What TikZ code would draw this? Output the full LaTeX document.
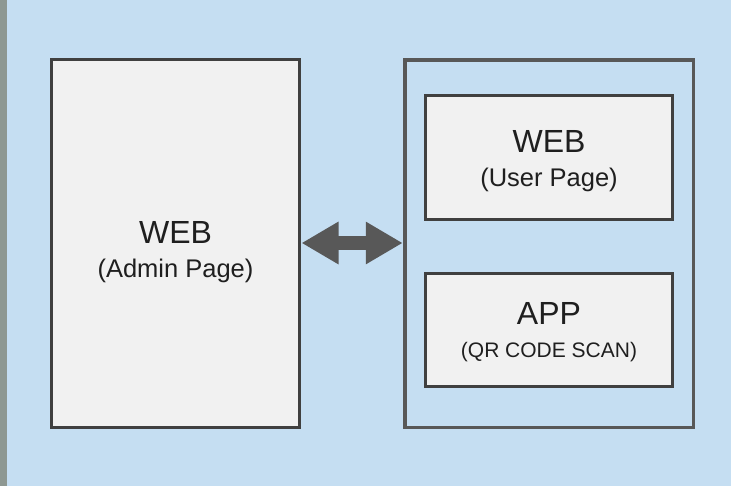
\documentclass[tikz,border=0pt]{standalone}
\usepackage{fontspec}
\setmainfont{Liberation Sans}
\usepackage{tikz}
\usetikzlibrary{calc}
\usetikzlibrary{arrows.meta}
\definecolor{bgblue}{RGB}{197,222,242}
\definecolor{boxfill}{RGB}{241,241,241}
\definecolor{boxline}{RGB}{64,64,64}
\definecolor{arrowgray}{RGB}{88,88,88}
\definecolor{stripgray}{RGB}{142,152,146}
\tikzstyle{arrow} = [line width=14pt, arrowgray, {Triangle[length=37pt, width=40pt]}-{Triangle[length=37pt, width=40pt]}]

\begin{document}
\begin{tikzpicture}[
				x=1pt, y=-1pt,
				box/.style= {draw=boxline, fill=boxfill, line width=3pt, inner sep=0pt, outer sep=0pt},
				frame/.style= {draw=arrowgray, line width=3.5pt, inner sep=0pt, outer sep=0pt},
				title/.style= {anchor=base, inner sep=0pt, text=black!88, font={\fontsize{32}{36}\selectfont}},
				sub/.style= {anchor=base, inner sep=0pt, text=black!88, font={\fontsize{25.5}{28}\selectfont}}
			]
			\useasboundingbox (0,0) rectangle (731,486);
			\fill [bgblue] (0,0) rectangle (731,486);
			\fill [stripgray] (0,0) rectangle (7,486);
			
			\node (admin) [box, minimum width=248pt, minimum height=367.5pt] at (175.5,243.75) {};
			\node (client) [frame, minimum width=288.5pt, minimum height=367pt] at (549,243.75) {};
			\node (user) [box, minimum width=247pt, minimum height=124pt] at (549,157.5) {};
			\node (app) [box, minimum width=247pt, minimum height=113pt] at (549,330) {};
			
			\node (adminweb) [title] at (admin.center) {WEB};
			\node (adminpage) [sub] at ([yshift=-34pt]admin.center) {(Admin Page)};
			\node (userweb) [title] at ([yshift=4.5pt]user.center) {WEB};
			\node (userpage) [sub] at ([yshift=-29.5pt]user.center) {(User Page)};
			\node (appname) [title] at ([yshift=5pt]app.center) {APP};
			\node (appscan) [sub, font={\fontsize{21}{24}\selectfont}] at ([yshift=-28pt]app.center) {(QR CODE SCAN)};
			
			\draw [arrow, shorten <=2pt, shorten >=2pt] ([yshift=0.75pt]admin.east) -- ([yshift=0.75pt]client.west);
		\end{tikzpicture}
\end{document}
